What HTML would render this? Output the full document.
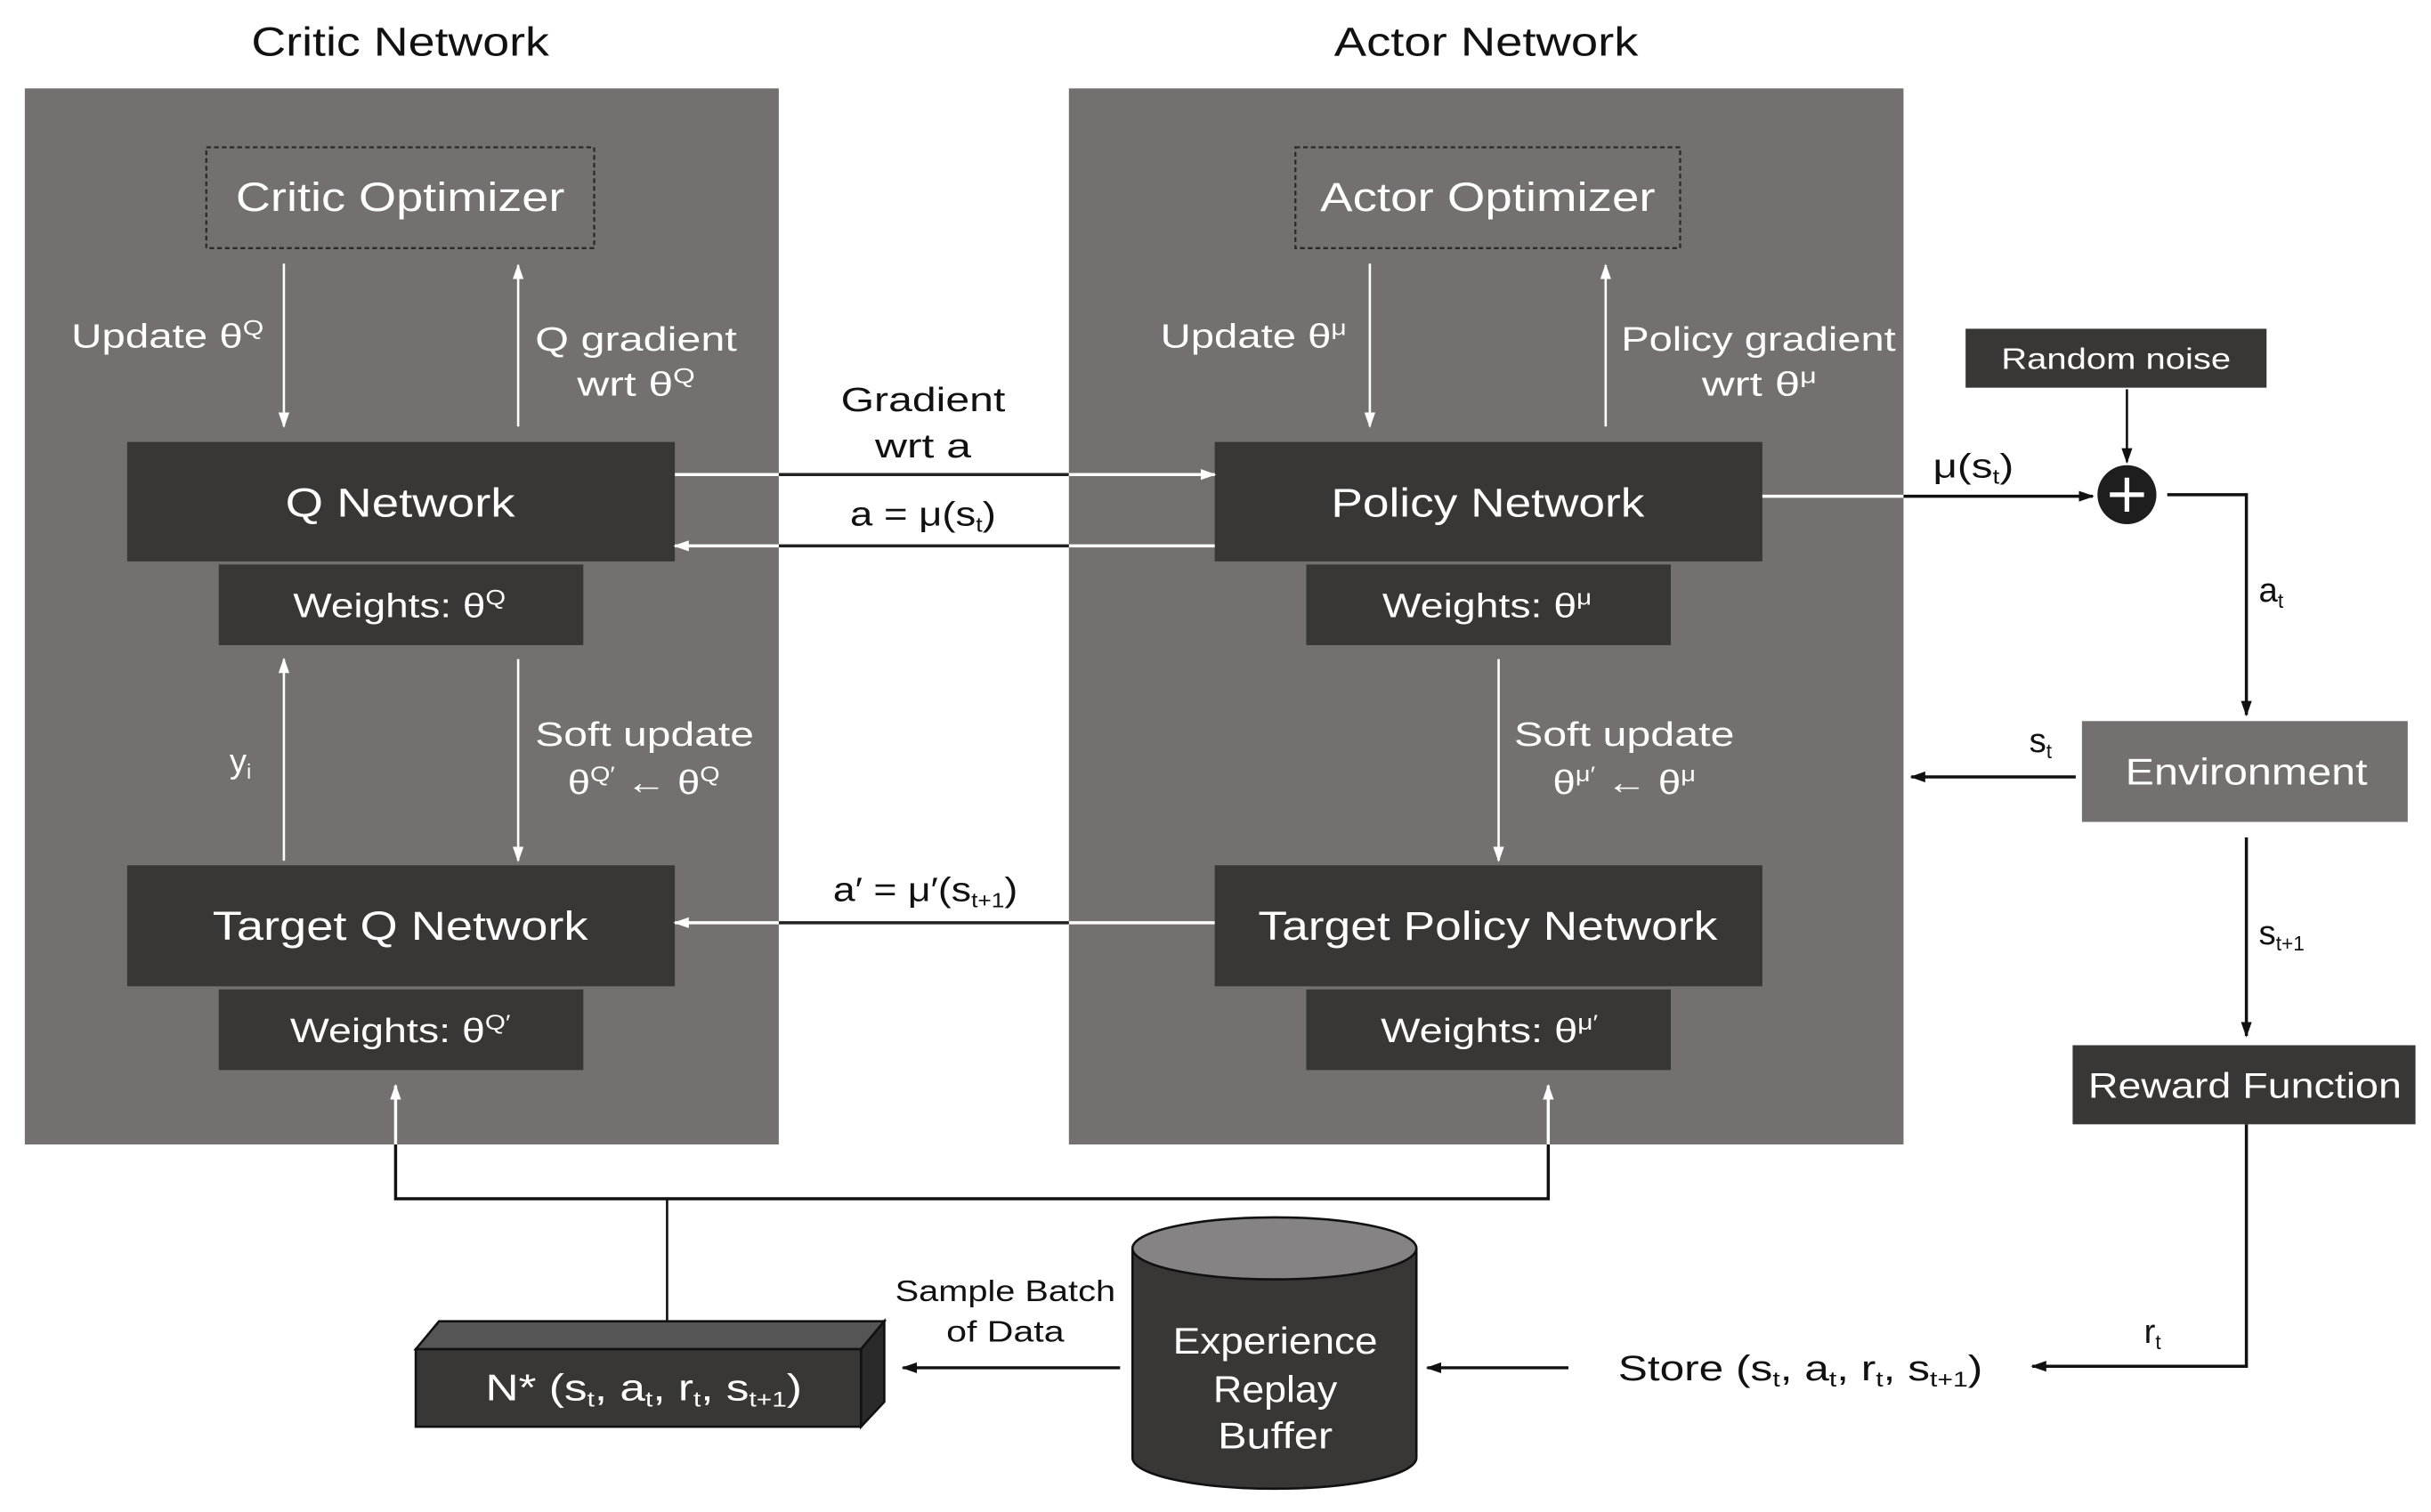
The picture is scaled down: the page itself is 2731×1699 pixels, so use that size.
<!DOCTYPE html>
<html><head><meta charset="utf-8"><style>
html,body{margin:0;padding:0;background:#fff;}
svg{display:block;}
text{font-family:"Liberation Sans Narrow","Liberation Sans",sans-serif;}
</style></head><body>
<svg width="2731" height="1699" viewBox="0 0 1567 975" preserveAspectRatio="none" xmlns="http://www.w3.org/2000/svg">
<defs>
<marker id="aw" markerWidth="10" markerHeight="10" refX="9" refY="5" orient="auto" markerUnits="userSpaceOnUse"><path d="M0,1.5 L10,5 L0,8.5 Z" fill="#fff"/></marker>
<marker id="ab" markerWidth="10" markerHeight="10" refX="9" refY="5" orient="auto" markerUnits="userSpaceOnUse"><path d="M0,1.5 L10,5 L0,8.5 Z" fill="#111"/></marker>
</defs>
<rect width="1567" height="975" fill="#fff"/>

<text x="258" y="36" font-size="26" text-anchor="middle" textLength="192" lengthAdjust="spacingAndGlyphs" fill="#111">Critic Network</text>
<text x="958" y="36" font-size="26" text-anchor="middle" textLength="196" lengthAdjust="spacingAndGlyphs" fill="#111">Actor Network</text>

<rect x="16" y="57" width="486" height="681" fill="#74706f"/>
<rect x="689" y="57" width="538" height="681" fill="#74706f"/>

<rect x="133" y="95" width="250" height="65" fill="none" stroke="#2a2a2a" stroke-width="1.3" stroke-dasharray="3,2"/>
<text x="258" y="136" font-size="26" text-anchor="middle" textLength="212" lengthAdjust="spacingAndGlyphs" fill="#fff">Critic Optimizer</text>
<rect x="835" y="95" width="248" height="65" fill="none" stroke="#2a2a2a" stroke-width="1.3" stroke-dasharray="3,2"/>
<text x="959" y="136" font-size="26" text-anchor="middle" textLength="216" lengthAdjust="spacingAndGlyphs" fill="#fff">Actor Optimizer</text>

<g stroke="#fff" stroke-width="1.5">
<line x1="183" y1="170" x2="183" y2="275" marker-end="url(#aw)"/>
<line x1="334" y1="275" x2="334" y2="171" marker-end="url(#aw)"/>
<line x1="183" y1="555" x2="183" y2="425" marker-end="url(#aw)"/>
<line x1="334" y1="425" x2="334" y2="555" marker-end="url(#aw)"/>
<line x1="883" y1="170" x2="883" y2="275" marker-end="url(#aw)"/>
<line x1="1035" y1="275" x2="1035" y2="171" marker-end="url(#aw)"/>
<line x1="966" y1="425" x2="966" y2="555" marker-end="url(#aw)"/>
</g>
<g fill="#fff" font-size="22">
<text x="46" y="224" textLength="124" lengthAdjust="spacingAndGlyphs">Update θ<tspan font-size="14" dy="-8">Q</tspan></text>
<text x="345" y="226" textLength="130" lengthAdjust="spacingAndGlyphs">Q gradient</text>
<text x="372" y="255" textLength="76" lengthAdjust="spacingAndGlyphs">wrt θ<tspan font-size="14" dy="-8">Q</tspan></text>
<text x="148" y="498">y<tspan font-size="13" dy="4">i</tspan></text>
<text x="345" y="481" textLength="141" lengthAdjust="spacingAndGlyphs">Soft update</text>
<text x="366" y="512" textLength="98" lengthAdjust="spacingAndGlyphs">θ<tspan font-size="14" dy="-8">Q′</tspan><tspan dy="8"> ← θ</tspan><tspan font-size="14" dy="-8">Q</tspan></text>
<text x="748" y="224" textLength="120" lengthAdjust="spacingAndGlyphs">Update θ<tspan font-size="14" dy="-8">μ</tspan></text>
<text x="1045" y="226" textLength="177" lengthAdjust="spacingAndGlyphs">Policy gradient</text>
<text x="1097" y="255" textLength="74" lengthAdjust="spacingAndGlyphs">wrt θ<tspan font-size="14" dy="-8">μ</tspan></text>
<text x="976" y="481" textLength="142" lengthAdjust="spacingAndGlyphs">Soft update</text>
<text x="1001" y="512" textLength="92" lengthAdjust="spacingAndGlyphs">θ<tspan font-size="14" dy="-8">μ′</tspan><tspan dy="8"> ← θ</tspan><tspan font-size="14" dy="-8">μ</tspan></text>
</g>

<g fill="#393736">
<rect x="82" y="285" width="353" height="77"/>
<rect x="141" y="364" width="235" height="52"/>
<rect x="82" y="558" width="353" height="78"/>
<rect x="141" y="638" width="235" height="52"/>
<rect x="783" y="285" width="353" height="77"/>
<rect x="842" y="364" width="235" height="52"/>
<rect x="783" y="558" width="353" height="78"/>
<rect x="842" y="638" width="235" height="52"/>
</g>
<g fill="#fff" font-size="26" text-anchor="middle">
<text x="258" y="333" textLength="148" lengthAdjust="spacingAndGlyphs">Q Network</text>
<text x="258" y="606" textLength="242" lengthAdjust="spacingAndGlyphs">Target Q Network</text>
<text x="959" y="333" textLength="202" lengthAdjust="spacingAndGlyphs">Policy Network</text>
<text x="959" y="606" textLength="296" lengthAdjust="spacingAndGlyphs">Target Policy Network</text>
</g>
<g fill="#fff" font-size="22">
<text x="189" y="398" textLength="137" lengthAdjust="spacingAndGlyphs">Weights: θ<tspan font-size="14" dy="-8">Q</tspan></text>
<text x="187" y="672" textLength="142" lengthAdjust="spacingAndGlyphs">Weights: θ<tspan font-size="14" dy="-8">Q′</tspan></text>
<text x="891" y="398" textLength="135" lengthAdjust="spacingAndGlyphs">Weights: θ<tspan font-size="14" dy="-8">μ</tspan></text>
<text x="890" y="672" textLength="140" lengthAdjust="spacingAndGlyphs">Weights: θ<tspan font-size="14" dy="-8">μ′</tspan></text>
</g>

<g stroke-width="2">
<line x1="435" y1="306" x2="502" y2="306" stroke="#fff"/>
<line x1="502" y1="306" x2="689" y2="306" stroke="#222"/>
<line x1="689" y1="306" x2="783" y2="306" stroke="#fff" marker-end="url(#aw)"/>
<line x1="783" y1="352" x2="689" y2="352" stroke="#fff"/>
<line x1="689" y1="352" x2="502" y2="352" stroke="#222"/>
<line x1="502" y1="352" x2="435" y2="352" stroke="#fff" marker-end="url(#aw)"/>
<line x1="783" y1="595" x2="689" y2="595" stroke="#fff"/>
<line x1="689" y1="595" x2="502" y2="595" stroke="#222"/>
<line x1="502" y1="595" x2="435" y2="595" stroke="#fff" marker-end="url(#aw)"/>
</g>
<g fill="#111" font-size="22">
<text x="595" y="265" text-anchor="middle" textLength="106" lengthAdjust="spacingAndGlyphs">Gradient</text>
<text x="595" y="295" text-anchor="middle" textLength="62" lengthAdjust="spacingAndGlyphs">wrt a</text>
<text x="548" y="339" textLength="94" lengthAdjust="spacingAndGlyphs">a = μ(s<tspan font-size="13" dy="4">t</tspan><tspan dy="-4">)</tspan></text>
<text x="537" y="581" textLength="119" lengthAdjust="spacingAndGlyphs">a′ = μ′(s<tspan font-size="13" dy="4">t+1</tspan><tspan dy="-4">)</tspan></text>
</g>

<g stroke-width="2" fill="none">
<line x1="1136" y1="320" x2="1227" y2="320" stroke="#fff"/>
<line x1="1227" y1="320" x2="1349" y2="320" stroke="#111" marker-end="url(#ab)"/>
<line x1="1371" y1="251" x2="1371" y2="298" stroke="#111" stroke-width="1.5" marker-end="url(#ab)"/>
<polyline points="1397,319 1448,319 1448,461" stroke="#111" marker-end="url(#ab)"/>
<line x1="1338" y1="501" x2="1232" y2="501" stroke="#111" marker-end="url(#ab)"/>
<line x1="1448" y1="540" x2="1448" y2="668" stroke="#111" marker-end="url(#ab)"/>
<polyline points="1448,725 1448,881 1310,881" stroke="#111" marker-end="url(#ab)"/>
<line x1="1011" y1="882" x2="920" y2="882" stroke="#111" marker-end="url(#ab)"/>
<line x1="722" y1="882" x2="582" y2="882" stroke="#111" marker-end="url(#ab)"/>
</g>
<circle cx="1371" cy="319" r="19" fill="#1e1e1e"/>
<path d="M1360,319 H1382 M1371,308 V330" stroke="#fff" stroke-width="3"/>
<rect x="1267" y="212" width="194" height="38" fill="#393736"/>
<text x="1364" y="238" font-size="19" text-anchor="middle" fill="#fff" textLength="148" lengthAdjust="spacingAndGlyphs">Random noise</text>
<rect x="1342" y="465" width="210" height="65" fill="#74706f"/>
<text x="1448" y="506" font-size="24" text-anchor="middle" fill="#fff" textLength="156" lengthAdjust="spacingAndGlyphs">Environment</text>
<rect x="1336" y="674" width="221" height="51" fill="#393736"/>
<text x="1447" y="708" font-size="23" text-anchor="middle" fill="#fff" textLength="202" lengthAdjust="spacingAndGlyphs">Reward Function</text>
<g fill="#111" font-size="22">
<text x="1246" y="308" textLength="52" lengthAdjust="spacingAndGlyphs">μ(s<tspan font-size="13" dy="4">t</tspan><tspan dy="-4">)</tspan></text>
<text x="1456" y="388">a<tspan font-size="13" dy="4">t</tspan></text>
<text x="1308" y="485">s<tspan font-size="13" dy="4">t</tspan></text>
<text x="1456" y="609">s<tspan font-size="13" dy="4">t+1</tspan></text>
<text x="1382" y="866">r<tspan font-size="13" dy="4">t</tspan></text>
<text x="1043" y="890" font-size="23" textLength="235" lengthAdjust="spacingAndGlyphs">Store (s<tspan font-size="14" dy="4">t</tspan><tspan dy="-4">, a</tspan><tspan font-size="14" dy="4">t</tspan><tspan dy="-4">, r</tspan><tspan font-size="14" dy="4">t</tspan><tspan dy="-4">, s</tspan><tspan font-size="14" dy="4">t+1</tspan><tspan dy="-4">)</tspan></text>
</g>

<g stroke-width="2" fill="none">
<polyline points="255,738 255,773 998,773 998,738" stroke="#111"/>
<line x1="255" y1="738" x2="255" y2="700" stroke="#fff" marker-end="url(#aw)"/>
<line x1="998" y1="738" x2="998" y2="700" stroke="#fff" marker-end="url(#aw)"/>
<line x1="430" y1="773" x2="430" y2="852" stroke="#111" stroke-width="1.5"/>
</g>

<path d="M730,805 V940 A91.5,20 0 0 0 913,940 V805" fill="#393736" stroke="#111" stroke-width="1.5"/>
<ellipse cx="821.5" cy="805" rx="91.5" ry="20" fill="#858383" stroke="#111" stroke-width="1.5"/>
<g fill="#fff" font-size="24" text-anchor="middle">
<text x="822" y="873" textLength="132" lengthAdjust="spacingAndGlyphs">Experience</text>
<text x="822" y="904" textLength="80" lengthAdjust="spacingAndGlyphs">Replay</text>
<text x="822" y="934" textLength="74" lengthAdjust="spacingAndGlyphs">Buffer</text>
</g>
<g fill="#111" font-size="19" text-anchor="middle">
<text x="648" y="839" textLength="142" lengthAdjust="spacingAndGlyphs">Sample Batch</text>
<text x="648" y="865" textLength="76" lengthAdjust="spacingAndGlyphs">of Data</text>
</g>

<polygon points="268,870 283,852 570,852 555,870" fill="#555" stroke="#111" stroke-width="1.5"/>
<polygon points="555,870 570,852 570,904 555,920" fill="#2a2a2a" stroke="#111" stroke-width="1.5"/>
<rect x="268" y="870" width="287" height="50" fill="#393736" stroke="#111" stroke-width="1.5"/>
<text x="313" y="903" font-size="24" fill="#fff" textLength="204" lengthAdjust="spacingAndGlyphs">N* (s<tspan font-size="14" dy="4">t</tspan><tspan dy="-4">, a</tspan><tspan font-size="14" dy="4">t</tspan><tspan dy="-4">, r</tspan><tspan font-size="14" dy="4">t</tspan><tspan dy="-4">, s</tspan><tspan font-size="14" dy="4">t+1</tspan><tspan dy="-4">)</tspan></text>
</svg>
</body></html>
